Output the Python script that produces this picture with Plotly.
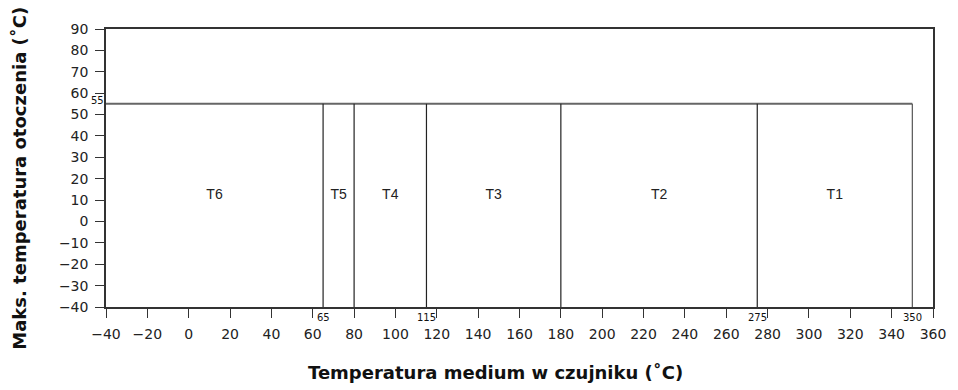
import plotly.graph_objects as go

# Temperature classes and their upper medium-temperature limits (°C)
classes = ["T6", "T5", "T4", "T3", "T2", "T1"]
class_limits = [65, 80, 115, 180, 275, 350]
ambient_max = 55          # max ambient temperature (°C)
x_start = -40             # lowest medium temperature on the chart
y_floor = -40             # lowest ambient temperature on the chart

# Boundaries that get their own small value label
marked_limits = [65, 115, 275, 350]

x_ticks = list(range(-40, 361, 20))
y_ticks = list(range(-40, 91, 10))

fig = go.Figure()

# Top edge of the permitted area (ambient limit)
fig.add_trace(go.Scatter(
    x=[x_start, class_limits[-1]], y=[ambient_max, ambient_max],
    mode="lines", line=dict(color="#666666", width=2),
    hoverinfo="skip", showlegend=False))

# Vertical separators between temperature classes
for i, lim in enumerate(class_limits):
    fig.add_trace(go.Scatter(
        x=[lim, lim], y=[y_floor, ambient_max],
        mode="lines",
        line=dict(color="#555555" if i == len(class_limits) - 1 else "#222222", width=1.2),
        hoverinfo="skip", showlegend=False))

# Class names centred in each band
lows = [x_start] + class_limits[:-1]
fig.add_trace(go.Scatter(
    x=[(a + b) / 2 for a, b in zip(lows, class_limits)],
    y=[12] * len(classes),
    mode="text", text=classes,
    textfont=dict(family="Liberation Sans, Arial", size=14, color="#222222"),
    hoverinfo="skip", showlegend=False))

annotations = []
# Small value labels under the axis for the class boundaries
for lim in marked_limits:
    annotations.append(dict(
        x=lim, y=y_floor, xref="x", yref="y", text=str(lim),
        showarrow=False, yshift=-10,
        font=dict(family="DejaVu Sans, Arial", size=10, color="#111111")))
# Ambient limit value on the left
annotations.append(dict(
    x=x_start, y=ambient_max, xref="x", yref="y", text=str(ambient_max),
    showarrow=False, xanchor="right", xshift=0, yshift=3,
    font=dict(family="DejaVu Sans, Arial", size=10, color="#111111")))

# Axis titles
annotations.append(dict(
    x=0.471, y=-0.237, xref="paper", yref="paper",
    xanchor="center", yanchor="middle",
    text="<b>Temperatura medium w czujniku (˚C)</b>", showarrow=False,
    font=dict(family="DejaVu Sans, Arial", size=18, color="#111111")))
annotations.append(dict(
    x=-0.1055, y=0.464, xref="paper", yref="paper", xanchor="center",
    yanchor="middle", textangle=-90,
    text="<b>Maks. temperatura otoczenia (˚C)</b>", showarrow=False,
    font=dict(family="DejaVu Sans, Arial", size=18, color="#111111")))

axis_common = dict(
    showgrid=False, zeroline=False, showline=True, mirror=True,
    linecolor="#333333", linewidth=1.5,
    ticks="outside", ticklen=9, tickwidth=1.3, tickcolor="#333333",
    tickfont=dict(family="DejaVu Sans, Arial", size=14, color="#222222"),
)

fig.update_layout(
    width=958, height=390,
    margin=dict(l=106, r=18, t=29, b=83),
    paper_bgcolor="white", plot_bgcolor="white",
    xaxis=dict(range=[-40, 360], tickvals=x_ticks, ticklabelstandoff=4, **axis_common),
    yaxis=dict(range=[-40, 90], tickvals=y_ticks, ticklabelstandoff=4, **axis_common),
    annotations=annotations,
)

fig.write_html("out.html")
